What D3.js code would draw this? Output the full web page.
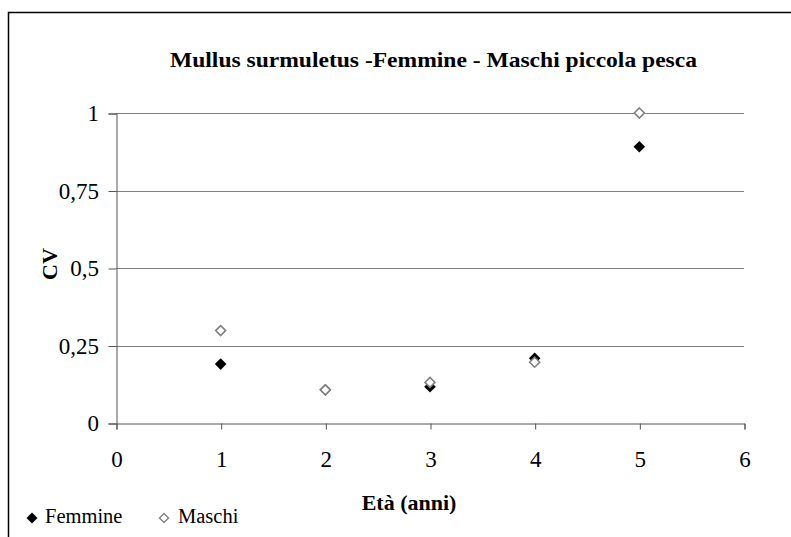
<!DOCTYPE html>
<html><head><meta charset="utf-8">
<script src="https://cdn.jsdelivr.net/npm/d3@7"></script>
<style>html,body{margin:0;padding:0;background:#fff;}svg{display:block;}</style>
</head><body>
<svg id="c" width="791" height="537"></svg>
<script>
const title = "Mullus surmuletus -Femmine - Maschi piccola pesca";
const xTicks = [0,1,2,3,4,5,6];
const yTicks = [0,0.25,0.5,0.75,1];
const ages = [1,2,3,4,5];
const femmine = [0.19,0.107,0.117,0.209,0.891];
const maschi = [0.298,0.107,0.131,0.196,1.0];
const seriesNames = ["Femmine","Maschi"];

const FONT = '"Liberation Serif"';
const svg = d3.select("#c");
const L=116, R=744, T=113, B=423;
const x = d3.scaleLinear().domain([0,6]).range([L,R]);
const y = d3.scaleLinear().domain([0,1]).range([B,T]);

// outer border
svg.append("rect").attr("x",8.5).attr("y",12.5).attr("width",800).attr("height",600)
  .attr("fill","none").attr("stroke","#000").attr("stroke-width",1.5);

// gridlines
svg.append("g").selectAll("line").data(yTicks.filter(d=>d>0)).join("line")
  .attr("x1",L).attr("x2",R).attr("y1",d=>Math.round(y(d))+0.5).attr("y2",d=>Math.round(y(d))+0.5)
  .attr("stroke","#808080").attr("stroke-width",1.2);

// y axis
const yAxis = d3.axisLeft(y).tickValues(yTicks).tickSize(8).tickPadding(9.5)
  .tickFormat(d=>String(d).replace(".",","));
const gy = svg.append("g").attr("transform",`translate(${L+0.5},0.5)`).call(yAxis);
gy.select(".domain").attr("stroke","#555");
gy.selectAll(".tick line").attr("stroke","#555");
gy.selectAll("text").style("font-family",FONT).style("font-size","23px").attr("fill","#000");

// x axis
const xAxis = d3.axisBottom(x).tickValues(xTicks).tickSize(6).tickFormat(d3.format("d"));
const gx = svg.append("g").attr("transform",`translate(0.5,${B+0.5})`).call(xAxis);
gx.select(".domain").attr("stroke","#555");
gx.selectAll(".tick line").attr("stroke","#555");
gx.selectAll("text").attr("dy",null).attr("y",43.5)
  .style("font-family",FONT).style("font-size","23px").attr("fill","#000");

// markers
const diamond = (s)=>`M0,${-s}L${s},0L0,${s}L${-s},0Z`;
svg.append("g").selectAll("path").data(ages.map((a,i)=>[a,femmine[i]])).join("path")
  .attr("d",diamond(5.8)).attr("transform",d=>`translate(${x(d[0])},${y(d[1])})`)
  .attr("fill","#000");
svg.append("g").selectAll("path").data(ages.map((a,i)=>[a,maschi[i]])).join("path")
  .attr("d",diamond(5)).attr("transform",d=>`translate(${x(d[0])},${y(d[1])})`)
  .attr("fill","#fff").attr("stroke","#808080").attr("stroke-width",1.6);

// title
svg.append("text").attr("x",433.5).attr("y",67).attr("text-anchor","middle")
  .style("font-family",FONT).style("font-weight","bold").style("font-size","22px")
  .attr("textLength",527).attr("lengthAdjust","spacingAndGlyphs").text(title);

// axis titles
svg.append("text").attr("transform","translate(56.5,264) rotate(-90)").attr("text-anchor","middle")
  .style("font-family",FONT).style("font-weight","bold").style("font-size","22px").text("CV");
svg.append("text").attr("x",409).attr("y",510).attr("text-anchor","middle")
  .style("font-family",FONT).style("font-weight","bold").style("font-size","22px").text("Età (anni)");

// legend
const lg = svg.append("g");
lg.append("path").attr("d",diamond(5.5)).attr("transform","translate(32,518)").attr("fill","#000");
lg.append("text").attr("x",45).attr("y",523).style("font-family",FONT).style("font-size","20.5px").text(seriesNames[0]);
lg.append("path").attr("d",diamond(4.5)).attr("transform","translate(164,518)")
  .attr("fill","#fff").attr("stroke","#808080").attr("stroke-width",1.4);
lg.append("text").attr("x",178).attr("y",523).style("font-family",FONT).style("font-size","20.5px").text(seriesNames[1]);
</script>
</body></html>
